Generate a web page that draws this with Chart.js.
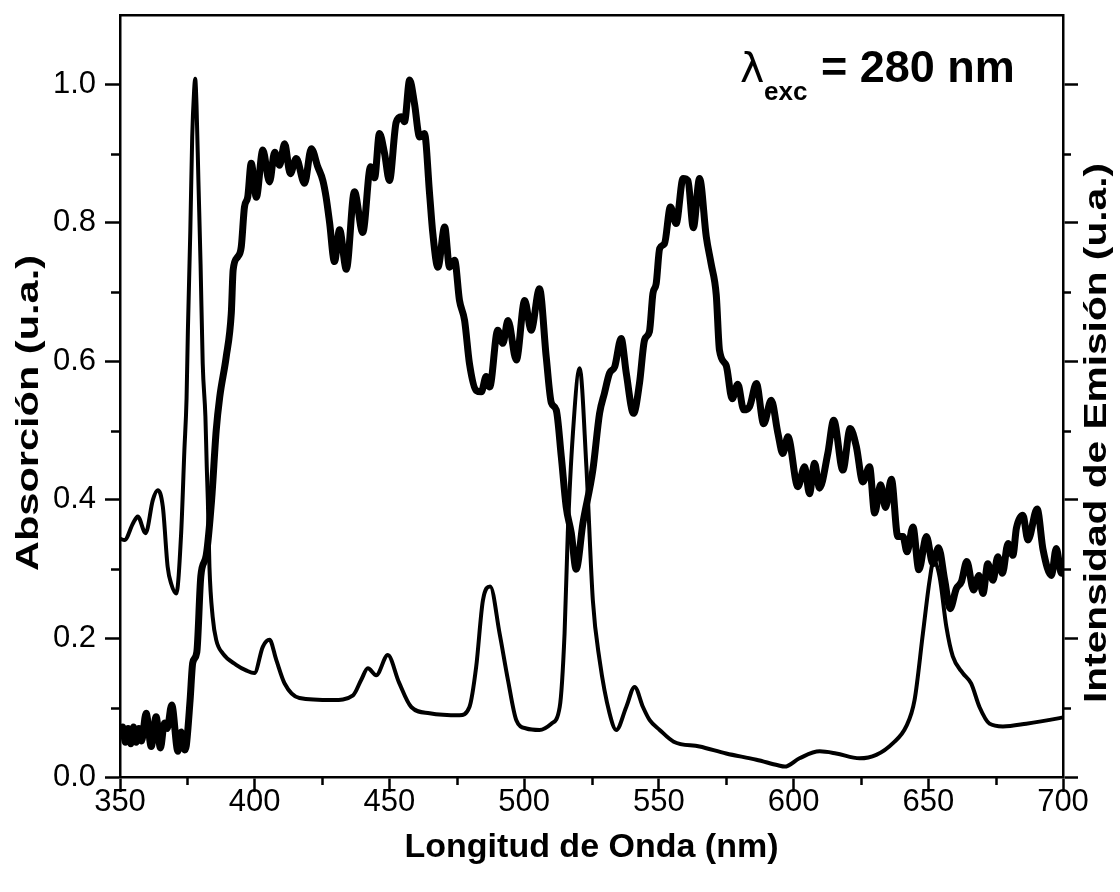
<!DOCTYPE html>
<html><head><meta charset="utf-8">
<script src="https://cdn.jsdelivr.net/npm/chart.js@4.4.1/dist/chart.umd.min.js"></script>
<style>html,body{margin:0;padding:0;background:#fff;}canvas{display:block;}</style>
</head><body>
<canvas id="c" width="1120" height="892"></canvas>
<script>
// Thick curve (Absorción)
const xAbs = [350,351,352,353,354,355,356,357,358,359.7,361.6,363.4,365,366.5,367.5,369.2,371.5,372.7,374,374.6,376,377,378.5,380,382,384,385.7,387,389.4,391.3,392,393.7,395,396.2,397.4,398.7,400.6,403,405.5,407.4,409.2,411.1,413.2,415.4,418.5,421,423.4,425.3,426.5,427.8,429.6,431.5,434,437,440.1,443,444.5,446.3,448.2,450,452.5,454.4,455.6,457.5,459.3,461.2,463,464.9,466.1,468,470.5,472.3,474.2,476,477.9,479.7,482.2,484.1,485.9,487.2,490.2,492.1,494,497.1,500.2,502.6,505.7,508.2,510.1,511.9,513.8,515.6,517.5,519.3,521.8,525.5,528,529.8,531.7,533.6,536,537.9,540.6,542.8,544.7,546.5,547.8,549,550.3,552.1,554.3,556.4,559,560.8,562.8,565.1,567.6,569.4,571.3,572.5,575,577.2,579.3,581.5,583.7,586.2,588.9,591.7,594.2,596,597.9,601.6,604.1,605.9,607.8,609.6,612.7,614.9,618.3,621,623.3,625.7,628.2,630.1,632.3,634.1,636.3,638.7,640.6,642.1,644.3,646.5,649.3,651.7,653.8,656.1,658.1,660.4,662.3,664.3,666.8,668.8,670.3,672.1,674,675.8,677.5,679.6,681.4,682.7,685.1,687,690.4,692.6,695.7,697.5,699.4,700];
const yAbs = [0.062,0.072,0.050,0.070,0.048,0.072,0.050,0.070,0.052,0.092,0.044,0.087,0.042,0.078,0.070,0.104,0.037,0.065,0.039,0.045,0.110,0.165,0.180,0.290,0.320,0.400,0.500,0.548,0.606,0.669,0.732,0.751,0.765,0.823,0.837,0.886,0.837,0.905,0.859,0.902,0.883,0.914,0.871,0.893,0.857,0.907,0.881,0.861,0.837,0.800,0.744,0.790,0.733,0.845,0.786,0.881,0.865,0.929,0.900,0.861,0.945,0.953,0.946,1.006,0.972,0.924,0.929,0.842,0.785,0.736,0.794,0.736,0.746,0.688,0.659,0.597,0.558,0.556,0.578,0.563,0.645,0.626,0.659,0.602,0.688,0.645,0.705,0.606,0.540,0.530,0.462,0.390,0.352,0.300,0.366,0.443,0.525,0.554,0.583,0.592,0.633,0.583,0.525,0.568,0.631,0.643,0.698,0.712,0.763,0.770,0.823,0.799,0.864,0.861,0.793,0.864,0.780,0.741,0.696,0.616,0.594,0.546,0.567,0.530,0.535,0.568,0.510,0.544,0.496,0.467,0.491,0.419,0.448,0.409,0.453,0.417,0.467,0.515,0.443,0.503,0.477,0.426,0.448,0.381,0.422,0.389,0.430,0.347,0.347,0.325,0.361,0.299,0.347,0.308,0.331,0.284,0.243,0.272,0.282,0.311,0.270,0.291,0.265,0.308,0.284,0.318,0.294,0.337,0.320,0.359,0.378,0.342,0.387,0.328,0.291,0.330,0.294,0.310];
// Thin curve (Emisión)
const xEm = [350,351.7,354.8,356.6,359.5,362.2,364,365.9,367.7,369,370.9,372.7,373.9,374.7,375.2,376.1,376.8,377.5,377.9,378.4,379.1,379.9,380.7,381.7,382.2,382.6,383.2,384.4,385.7,388.2,393.1,396.8,399.9,403,405.5,408,411.1,416.6,429,436.5,439.5,442,445.1,449.4,453.5,458.1,464.9,476,479.7,482.2,484.7,487.4,490.9,494,497.1,500.8,505.7,510.1,513.2,515,516.2,518.1,520.6,523.1,525.5,528,531.7,534.2,537.9,541,544.1,546.6,550.3,555.5,565.1,575,586.2,594.2,596.7,602.2,609.7,615.8,624.5,630.7,636.9,641.8,644.9,648,650.5,652,654.2,656.7,659.1,662.8,665.9,669,672.7,677.7,686.4,698.7,700];
const yEm = [0.344,0.342,0.366,0.376,0.352,0.400,0.414,0.390,0.303,0.279,0.265,0.352,0.472,0.546,0.645,0.789,0.924,0.990,1.008,0.970,0.861,0.741,0.597,0.520,0.448,0.400,0.303,0.231,0.198,0.178,0.162,0.154,0.150,0.188,0.198,0.169,0.135,0.114,0.111,0.118,0.140,0.157,0.147,0.176,0.137,0.101,0.092,0.089,0.101,0.159,0.255,0.275,0.207,0.140,0.082,0.070,0.068,0.077,0.101,0.207,0.352,0.496,0.590,0.448,0.255,0.169,0.092,0.068,0.101,0.130,0.101,0.082,0.068,0.051,0.044,0.034,0.025,0.017,0.015,0.027,0.037,0.034,0.027,0.032,0.049,0.073,0.111,0.207,0.284,0.313,0.289,0.217,0.174,0.150,0.135,0.101,0.077,0.073,0.077,0.085,0.086];

const xMajorTicks = [350,400,450,500,550,600,650,700];
const xMinorTicks = [375,425,475,525,575,625,675];
const yMajorTicks = [0.0,0.2,0.4,0.6,0.8,1.0];
const yMinorTicks = [0.1,0.3,0.5,0.7,0.9];
const yTickLabels = ['0.0','0.2','0.4','0.6','0.8','1.0'];

const xTitle = 'Longitud de Onda (nm)';
const yTitle = 'Absorción (u.a.)';
const y2Title = 'Intensidad de Emisión (u.a.)';

const pts = (xs, ys) => xs.map((x, i) => ({x, y: ys[i]}));

function drawStretchedVertical(c, text, cx, cy, length, font) {
  c.save();
  c.font = font;
  c.fillStyle = '#000';
  c.textAlign = 'center';
  c.textBaseline = 'middle';
  const w = c.measureText(text).width;
  c.translate(cx, cy);
  c.rotate(-Math.PI / 2);
  c.scale(length / w, 1);
  c.fillText(text, 0, 0);
  c.restore();
}

const decorations = {
  id: 'decorations',
  afterDraw(chart) {
    const c = chart.ctx;
    const {x, y} = chart.scales;
    const a = chart.chartArea;
    c.save();
    c.strokeStyle = '#000';
    c.lineWidth = 2.5;
    c.beginPath();
    xMinorTicks.forEach(v => {
      const p = Math.round(x.getPixelForValue(v)) + 0.5;
      c.moveTo(p, a.bottom); c.lineTo(p, a.bottom + 8);
    });
    yMinorTicks.forEach(v => {
      const p = Math.round(y.getPixelForValue(v)) + 0.5;
      c.moveTo(a.left, p); c.lineTo(a.left - 9, p);
      c.moveTo(a.right, p); c.lineTo(a.right + 8, p);
    });
    c.stroke();
    c.restore();

    const tf = 'bold 31px "Liberation Sans", Arial, sans-serif';
    drawStretchedVertical(c, yTitle, 29, 413, 316, tf);
    drawStretchedVertical(c, y2Title, 1097, 433, 540, tf);

    // annotation
    c.save();
    c.fillStyle = '#000';
    c.textBaseline = 'alphabetic';
    c.textAlign = 'left';
    c.font = '41px "DejaVu Sans", sans-serif';
    c.fillText('λ', 740, 82);
    c.font = 'bold 26px "Liberation Sans", Arial, sans-serif';
    c.fillText('exc', 764, 100);
    c.font = 'bold 45px "Liberation Sans", Arial, sans-serif';
    c.fillText('= 280 nm', 821, 82);
    c.restore();
  }
};

const tickFont = {family: '"Liberation Sans", Arial, sans-serif', size: 31};
const titleFont = {family: '"Liberation Sans", Arial, sans-serif', size: 34, weight: 'bold'};
const noPad = s => { s.paddingTop = 0; s.paddingBottom = 0; };

new Chart(document.getElementById('c'), {
  type: 'line',
  data: {
    datasets: [
      {data: pts(xAbs, yAbs), borderColor: '#000', borderWidth: 7, pointRadius: 0,
       cubicInterpolationMode: 'monotone', borderJoinStyle: 'round', borderCapStyle: 'round', xAxisID: 'x', yAxisID: 'y'},
      {data: pts(xEm, yEm), borderColor: '#000', borderWidth: 4, pointRadius: 0,
       cubicInterpolationMode: 'monotone', borderJoinStyle: 'round', borderCapStyle: 'round', xAxisID: 'x', yAxisID: 'y'}
    ]
  },
  options: {
    responsive: false,
    animation: false,
    events: [],
    layout: {padding: 0},
    plugins: {legend: {display: false}, tooltip: {enabled: false}},
    scales: {
      x: {
        type: 'linear', position: 'bottom', min: 350, max: 700,
        afterBuildTicks: s => { s.ticks = xMajorTicks.map(v => ({value: v})); },
        afterFit: s => { s.height = 115; },
        ticks: {color: '#000', font: tickFont, padding: -8, maxRotation: 0, autoSkip: false},
        grid: {drawOnChartArea: false, tickLength: 15, tickWidth: 2.5, tickColor: '#000'},
        border: {color: '#000', width: 2.5},
        title: {display: true, text: xTitle, color: '#000', font: titleFont, padding: {top: 0, bottom: 24}}
      },
      xTop: {
        type: 'linear', position: 'top', min: 350, max: 700,
        afterFit: s => { s.height = 15; },
        ticks: {display: false},
        grid: {drawOnChartArea: false, drawTicks: false},
        border: {color: '#000', width: 2.5}
      },
      y: {
        type: 'linear', position: 'left', min: 0, max: 1.1,
        afterBuildTicks: s => { s.ticks = yMajorTicks.map(v => ({value: v})); },
        afterFit: s => { s.width = 120; noPad(s); },
        ticks: {color: '#000', font: tickFont, padding: 9, autoSkip: false,
                callback: (v) => yTickLabels[yMajorTicks.findIndex(t => Math.abs(t - v) < 1e-6)] ?? ''},
        grid: {drawOnChartArea: false, tickLength: 15, tickWidth: 2.5, tickColor: '#000'},
        border: {color: '#000', width: 2.5}
      },
      y2: {
        type: 'linear', position: 'right', min: 0, max: 1.1,
        afterBuildTicks: s => { s.ticks = yMajorTicks.map(v => ({value: v})); },
        afterFit: s => { s.width = 57; noPad(s); },
        ticks: {display: false},
        grid: {drawOnChartArea: false, tickLength: 15, tickWidth: 2.5, tickColor: '#000'},
        border: {color: '#000', width: 2.5}
      }
    }
  },
  plugins: [decorations]
});
</script>
</body></html>
